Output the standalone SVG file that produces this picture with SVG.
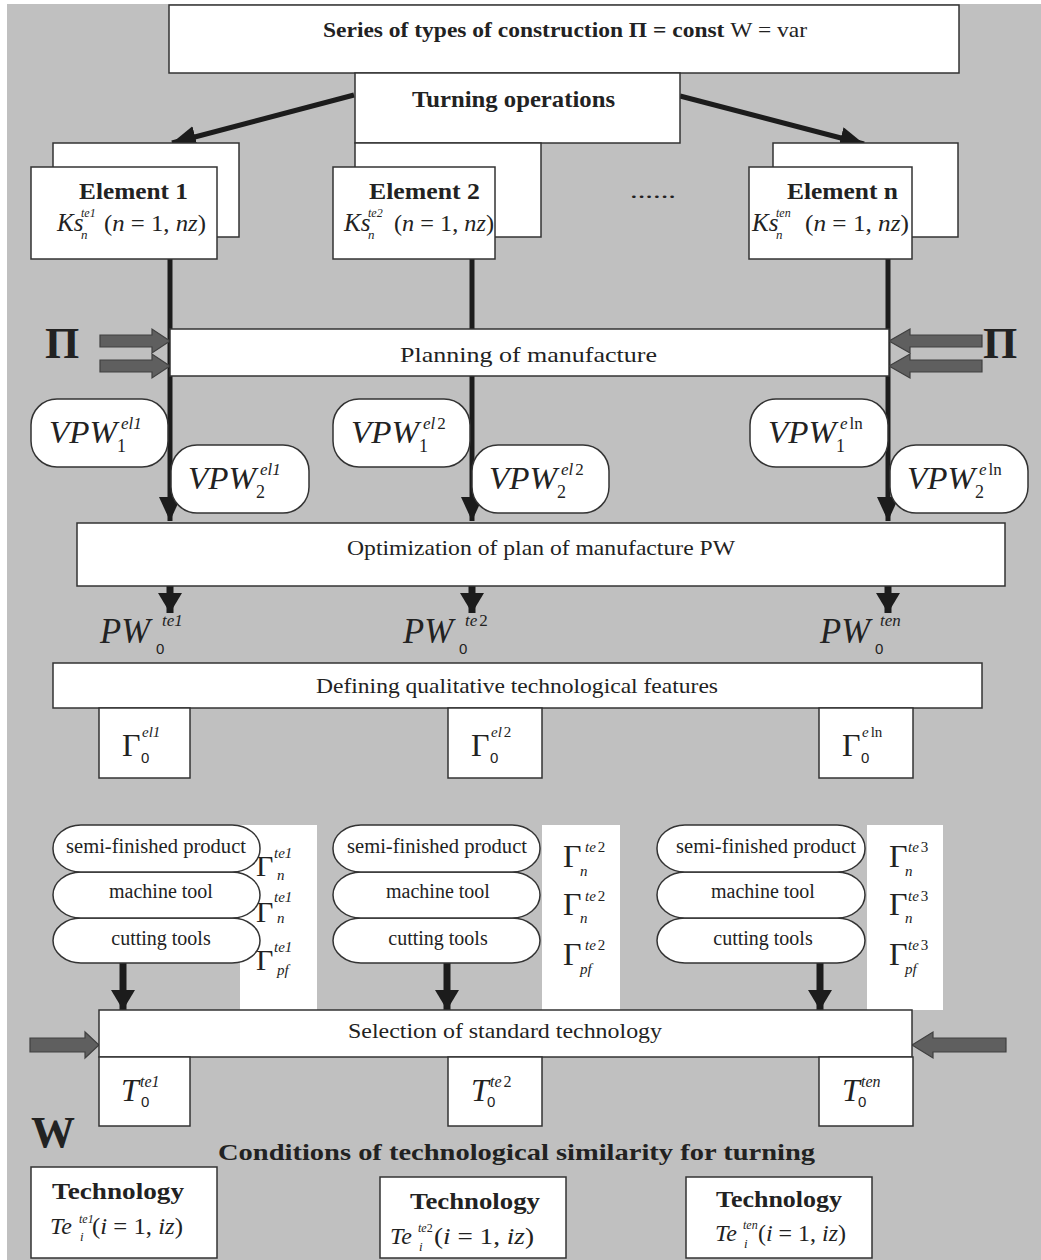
<svg xmlns="http://www.w3.org/2000/svg" width="1041" height="1260" viewBox="0 0 1041 1260">
<defs>
<style>
.bg{fill:#c0c0c0}
.box{fill:#fff;stroke:#333;stroke-width:1.5}
.panel{fill:#fff}
.t{font-family:"Liberation Serif","Times New Roman",serif;fill:#222}
.b{font-weight:bold}
.i{font-style:italic}
.s{font-family:"Liberation Sans",Arial,sans-serif;fill:#222}
.ln{stroke:#1c1c1c;stroke-width:5;fill:none}
.lnt{stroke:#1c1c1c;stroke-width:7;fill:none}
.garrow{fill:#5f5f5f;stroke:#404040;stroke-width:1.2}
</style>
<marker id="ah" markerUnits="userSpaceOnUse" viewBox="0 0 24 22" refX="24" refY="11" markerWidth="24" markerHeight="22" orient="auto">
<path d="M0,0 L24,11 L0,22 z" fill="#1c1c1c"/>
</marker>
<marker id="ahw" markerUnits="userSpaceOnUse" viewBox="0 0 20 24" refX="20" refY="12" markerWidth="20" markerHeight="24" orient="auto">
<path d="M0,0 L20,12 L0,24 z" fill="#1c1c1c"/>
</marker>
</defs>
<rect x="0" y="0" width="1041" height="1260" fill="#fff"/>
<rect class="bg" x="7" y="4" width="1034" height="1256"/>

<g id="connectors">
<line class="ln" x1="354" y1="95" x2="172" y2="143" marker-end="url(#ah)"/>
<line class="ln" x1="680" y1="96" x2="864" y2="144" marker-end="url(#ah)"/>
<line class="ln" x1="170" y1="259" x2="170" y2="521" marker-end="url(#ah)"/>
<line class="ln" x1="472" y1="259" x2="472" y2="521" marker-end="url(#ah)"/>
<line class="ln" x1="888" y1="259" x2="888" y2="521" marker-end="url(#ah)"/>
<line class="lnt" x1="170" y1="586" x2="170" y2="613" marker-end="url(#ahw)"/>
<line class="lnt" x1="472" y1="586" x2="472" y2="613" marker-end="url(#ahw)"/>
<line class="lnt" x1="888" y1="586" x2="888" y2="613" marker-end="url(#ahw)"/>
<line class="lnt" x1="123" y1="963" x2="123" y2="1010" marker-end="url(#ahw)"/>
<line class="lnt" x1="447" y1="963" x2="447" y2="1010" marker-end="url(#ahw)"/>
<line class="lnt" x1="820" y1="963" x2="820" y2="1010" marker-end="url(#ahw)"/>
<path class="garrow" d="M100,335 L152,335 L152,329 L170,341 L152,353 L152,347 L100,347 z"/>
<path class="garrow" d="M100,360 L152,360 L152,354 L170,366 L152,378 L152,372 L100,372 z"/>
<path class="garrow" d="M982,335 L910,335 L910,329 L889,341 L910,353 L910,347 L982,347 z"/>
<path class="garrow" d="M982,360 L910,360 L910,354 L889,366 L910,378 L910,372 L982,372 z"/>
<path class="garrow" d="M30,1038 L85,1038 L85,1032 L99,1045 L85,1058 L85,1052 L30,1052 z"/>
<path class="garrow" d="M1006,1038 L933,1038 L933,1032 L912,1045 L933,1058 L933,1052 L1006,1052 z"/>
</g>

<g id="series">
<rect class="box" x="169" y="5" width="790" height="68"/>
<text class="t" x="323" y="37" font-size="21" textLength="484" lengthAdjust="spacingAndGlyphs"><tspan class="b">Series of types of construction Π = const </tspan><tspan>W = var</tspan></text>
</g>
<g id="turning">
<rect class="box" x="355" y="73" width="325" height="70"/>
<text class="t b" x="412" y="107" font-size="24" textLength="203" lengthAdjust="spacingAndGlyphs">Turning operations</text>
</g>

<g id="element1">
<rect class="box" x="53" y="143" width="186" height="94"/>
<rect class="box" x="31" y="167" width="186" height="92"/>
<text class="t b" x="79" y="199" font-size="24" textLength="109" lengthAdjust="spacingAndGlyphs">Element 1</text>
<text class="t i" x="57" y="231" font-size="25">Ks</text>
<text class="t i" x="81" y="217" font-size="12">te1</text>
<text class="t i" x="81" y="239" font-size="13">n</text>
<text class="t" x="104" y="231" font-size="24" textLength="102" lengthAdjust="spacingAndGlyphs">(<tspan class="i">n</tspan> = 1, <tspan class="i">nz</tspan>)</text>
</g>
<g id="element2">
<rect class="box" x="355" y="143" width="186" height="94"/>
<rect class="box" x="333" y="167" width="162" height="92"/>
<text class="t b" x="369" y="199" font-size="24" textLength="111" lengthAdjust="spacingAndGlyphs">Element 2</text>
<text class="t i" x="344" y="231" font-size="25">Ks</text>
<text class="t i" x="368" y="217" font-size="12">te2</text>
<text class="t i" x="368" y="239" font-size="13">n</text>
<text class="t" x="394" y="231" font-size="24" textLength="100" lengthAdjust="spacingAndGlyphs">(<tspan class="i">n</tspan> = 1, <tspan class="i">nz</tspan>)</text>
</g>
<g id="dots">
<text class="t" x="630" y="198" font-size="22" textLength="46" lengthAdjust="spacingAndGlyphs">......</text>
</g>
<g id="elementn">
<rect class="box" x="773" y="143" width="185" height="94"/>
<rect class="box" x="749" y="167" width="163" height="92"/>
<text class="t b" x="787" y="199" font-size="24" textLength="111" lengthAdjust="spacingAndGlyphs">Element n</text>
<text class="t i" x="752" y="231" font-size="25">Ks</text>
<text class="t i" x="776" y="217" font-size="12">ten</text>
<text class="t i" x="776" y="239" font-size="13">n</text>
<text class="t" x="805" y="231" font-size="24" textLength="104" lengthAdjust="spacingAndGlyphs">(<tspan class="i">n</tspan> = 1, <tspan class="i">nz</tspan>)</text>
</g>

<g id="pi-left"><text class="t b" x="45" y="358" font-size="44">Π</text></g>
<g id="pi-right"><text class="t b" x="983" y="358" font-size="44">Π</text></g>

<g id="planning">
<rect class="box" x="170" y="329" width="719" height="47"/>
<text class="t" x="400" y="362" font-size="22" textLength="257" lengthAdjust="spacingAndGlyphs">Planning of manufacture</text>
</g>

<g id="vpw1-el1">
<rect class="box" x="31" y="399" width="137" height="68" rx="26" ry="26"/>
<text class="t i" x="49" y="443" font-size="31" textLength="68" lengthAdjust="spacingAndGlyphs">VPW</text>
<text class="t i" x="121" y="429" font-size="17">el1</text>
<text class="t" x="117" y="452" font-size="18">1</text>
</g>
<g id="vpw2-el1">
<rect class="box" x="171" y="445" width="138" height="68" rx="26" ry="26"/>
<text class="t i" x="188" y="489" font-size="31" textLength="68" lengthAdjust="spacingAndGlyphs">VPW</text>
<text class="t i" x="260" y="475" font-size="17">el1</text>
<text class="t" x="256" y="498" font-size="18">2</text>
</g>
<g id="vpw1-el2">
<rect class="box" x="333" y="399" width="137" height="68" rx="26" ry="26"/>
<text class="t i" x="351" y="443" font-size="31" textLength="68" lengthAdjust="spacingAndGlyphs">VPW</text>
<text class="t i" x="423" y="429" font-size="17">el<tspan font-style="normal" dx="2">2</tspan></text>
<text class="t" x="419" y="452" font-size="18">1</text>
</g>
<g id="vpw2-el2">
<rect class="box" x="472" y="445" width="137" height="68" rx="26" ry="26"/>
<text class="t i" x="489" y="489" font-size="31" textLength="68" lengthAdjust="spacingAndGlyphs">VPW</text>
<text class="t i" x="561" y="475" font-size="17">el<tspan font-style="normal" dx="2">2</tspan></text>
<text class="t" x="557" y="498" font-size="18">2</text>
</g>
<g id="vpw1-eln">
<rect class="box" x="750" y="399" width="138" height="68" rx="26" ry="26"/>
<text class="t i" x="768" y="443" font-size="31" textLength="68" lengthAdjust="spacingAndGlyphs">VPW</text>
<text class="t i" x="840" y="429" font-size="17">e<tspan font-style="normal" dx="2">ln</tspan></text>
<text class="t" x="836" y="452" font-size="18">1</text>
</g>
<g id="vpw2-eln">
<rect class="box" x="890" y="445" width="138" height="68" rx="26" ry="26"/>
<text class="t i" x="907" y="489" font-size="31" textLength="68" lengthAdjust="spacingAndGlyphs">VPW</text>
<text class="t i" x="979" y="475" font-size="17">e<tspan font-style="normal" dx="2">ln</tspan></text>
<text class="t" x="975" y="498" font-size="18">2</text>
</g>

<g id="optimization">
<rect class="box" x="77" y="523" width="928" height="63"/>
<text class="t" x="347" y="555" font-size="22" textLength="388" lengthAdjust="spacingAndGlyphs">Optimization of plan of manufacture PW</text>
</g>

<g id="pw1">
<text class="t i" x="100" y="643" font-size="36" textLength="50" lengthAdjust="spacingAndGlyphs">PW</text>
<text class="t i" x="162" y="626" font-size="17">te1</text>
<text class="s" x="156" y="654" font-size="15">0</text>
</g>
<g id="pw2">
<text class="t i" x="403" y="643" font-size="36" textLength="50" lengthAdjust="spacingAndGlyphs">PW</text>
<text class="t i" x="465" y="626" font-size="17">te<tspan font-style="normal" dx="2">2</tspan></text>
<text class="s" x="459" y="654" font-size="15">0</text>
</g>
<g id="pwn">
<text class="t i" x="820" y="643" font-size="36" textLength="50" lengthAdjust="spacingAndGlyphs">PW</text>
<text class="t i" x="880" y="626" font-size="17">ten</text>
<text class="s" x="875" y="654" font-size="15">0</text>
</g>

<g id="defining">
<rect class="box" x="53" y="663" width="929" height="45"/>
<text class="t" x="316" y="693" font-size="22" textLength="402" lengthAdjust="spacingAndGlyphs">Defining qualitative technological features</text>
</g>
<g id="g0-el1">
<rect class="box" x="99" y="708" width="91" height="70"/>
<text class="t" x="122" y="756" font-size="32">Γ</text>
<text class="t i" x="142" y="737" font-size="15">el1</text>
<text class="s" x="141" y="763" font-size="15">0</text>
</g>
<g id="g0-el2">
<rect class="box" x="448" y="708" width="94" height="70"/>
<text class="t" x="471" y="756" font-size="32">Γ</text>
<text class="t i" x="491" y="737" font-size="15">el<tspan font-style="normal" dx="2">2</tspan></text>
<text class="s" x="490" y="763" font-size="15">0</text>
</g>
<g id="g0-eln">
<rect class="box" x="819" y="708" width="94" height="70"/>
<text class="t" x="842" y="756" font-size="32">Γ</text>
<text class="t i" x="862" y="737" font-size="15">e<tspan font-style="normal" dx="2">ln</tspan></text>
<text class="s" x="861" y="763" font-size="15">0</text>
</g>

<g id="group1">
<rect class="panel" x="240" y="825" width="77" height="185"/>
<text class="t" x="256" y="876" font-size="30">Γ</text>
<text class="t i" x="274" y="858" font-size="15">te1</text>
<text class="t i" x="277" y="880" font-size="15">n</text>
<text class="t" x="256" y="922" font-size="30">Γ</text>
<text class="t i" x="274" y="902" font-size="15">te1</text>
<text class="t i" x="277" y="923" font-size="15">n</text>
<text class="t" x="256" y="970" font-size="30">Γ</text>
<text class="t i" x="274" y="952" font-size="15">te1</text>
<text class="t i" x="277" y="975" font-size="15">pf</text>
<rect class="box" x="53" y="918" width="207" height="45" rx="28" ry="23"/>
<rect class="box" x="53" y="872" width="207" height="46" rx="28" ry="23"/>
<rect class="box" x="53" y="825" width="207" height="47" rx="28" ry="23"/>
<text class="t" x="156" y="853" font-size="20" text-anchor="middle" textLength="180" lengthAdjust="spacingAndGlyphs">semi-finished product</text>
<text class="t" x="161" y="898" font-size="20" text-anchor="middle">machine tool</text>
<text class="t" x="161" y="945" font-size="20" text-anchor="middle">cutting tools</text>
</g>
<g id="group2">
<rect class="panel" x="542" y="825" width="78" height="185"/>
<text class="t" x="563" y="867" font-size="32">Γ</text>
<text class="t i" x="585" y="852" font-size="15">te<tspan font-style="normal" dx="2">2</tspan></text>
<text class="t i" x="580" y="876" font-size="15">n</text>
<text class="t" x="563" y="915" font-size="32">Γ</text>
<text class="t i" x="585" y="901" font-size="15">te<tspan font-style="normal" dx="2">2</tspan></text>
<text class="t i" x="580" y="923" font-size="15">n</text>
<text class="t" x="563" y="965" font-size="32">Γ</text>
<text class="t i" x="585" y="950" font-size="15">te<tspan font-style="normal" dx="2">2</tspan></text>
<text class="t i" x="580" y="974" font-size="15">pf</text>
<rect class="box" x="333" y="918" width="207" height="45" rx="28" ry="23"/>
<rect class="box" x="333" y="872" width="207" height="46" rx="28" ry="23"/>
<rect class="box" x="333" y="825" width="207" height="47" rx="28" ry="23"/>
<text class="t" x="437" y="853" font-size="20" text-anchor="middle" textLength="180" lengthAdjust="spacingAndGlyphs">semi-finished product</text>
<text class="t" x="438" y="898" font-size="20" text-anchor="middle">machine tool</text>
<text class="t" x="438" y="945" font-size="20" text-anchor="middle">cutting tools</text>
</g>
<g id="group3">
<rect class="panel" x="867" y="825" width="76" height="185"/>
<text class="t" x="889" y="867" font-size="32">Γ</text>
<text class="t i" x="908" y="852" font-size="15">te<tspan font-style="normal" dx="2">3</tspan></text>
<text class="t i" x="905" y="876" font-size="15">n</text>
<text class="t" x="889" y="915" font-size="32">Γ</text>
<text class="t i" x="908" y="901" font-size="15">te<tspan font-style="normal" dx="2">3</tspan></text>
<text class="t i" x="905" y="923" font-size="15">n</text>
<text class="t" x="889" y="965" font-size="32">Γ</text>
<text class="t i" x="908" y="950" font-size="15">te<tspan font-style="normal" dx="2">3</tspan></text>
<text class="t i" x="905" y="974" font-size="15">pf</text>
<rect class="box" x="657" y="918" width="208" height="45" rx="28" ry="23"/>
<rect class="box" x="657" y="872" width="208" height="46" rx="28" ry="23"/>
<rect class="box" x="657" y="825" width="208" height="47" rx="28" ry="23"/>
<text class="t" x="766" y="853" font-size="20" text-anchor="middle" textLength="180" lengthAdjust="spacingAndGlyphs">semi-finished product</text>
<text class="t" x="763" y="898" font-size="20" text-anchor="middle">machine tool</text>
<text class="t" x="763" y="945" font-size="20" text-anchor="middle">cutting tools</text>
</g>

<g id="selection">
<rect class="box" x="99" y="1010" width="813" height="47"/>
<text class="t" x="348" y="1038" font-size="22" textLength="314" lengthAdjust="spacingAndGlyphs">Selection of standard technology</text>
</g>
<g id="t0-te1">
<rect class="box" x="99" y="1057" width="91" height="69"/>
<text class="t i" x="121" y="1101" font-size="32">T</text>
<text class="t i" x="140" y="1087" font-size="16">te1</text>
<text class="s" x="141" y="1107" font-size="15">0</text>
</g>
<g id="t0-te2">
<rect class="box" x="448" y="1057" width="94" height="69"/>
<text class="t i" x="471" y="1101" font-size="32">T</text>
<text class="t i" x="490" y="1087" font-size="16">te<tspan font-style="normal" dx="2">2</tspan></text>
<text class="s" x="487" y="1107" font-size="15">0</text>
</g>
<g id="t0-ten">
<rect class="box" x="819" y="1057" width="94" height="69"/>
<text class="t i" x="842" y="1101" font-size="32">T</text>
<text class="t i" x="861" y="1087" font-size="16">ten</text>
<text class="s" x="858" y="1107" font-size="15">0</text>
</g>

<g id="w-label"><text class="t b" x="31" y="1147" font-size="44">W</text></g>
<g id="conditions">
<text class="t b" x="218" y="1160" font-size="24" textLength="597" lengthAdjust="spacingAndGlyphs">Conditions of technological similarity for turning</text>
</g>

<g id="tech1">
<rect class="box" x="31" y="1167" width="186" height="91"/>
<text class="t b" x="52" y="1199" font-size="24" textLength="132" lengthAdjust="spacingAndGlyphs">Technology</text>
<text class="t i" x="50" y="1234" font-size="24">Te</text>
<text class="t i" x="79" y="1223" font-size="12">te1</text>
<text class="t i" x="80" y="1241" font-size="13">i</text>
<text class="t" x="92" y="1234" font-size="23" textLength="91" lengthAdjust="spacingAndGlyphs">(<tspan class="i">i</tspan> = 1, <tspan class="i">iz</tspan>)</text>
</g>
<g id="tech2">
<rect class="box" x="380" y="1177" width="186" height="81"/>
<text class="t b" x="410" y="1209" font-size="24" textLength="130" lengthAdjust="spacingAndGlyphs">Technology</text>
<text class="t i" x="390" y="1244" font-size="24">Te</text>
<text class="t i" x="418" y="1232" font-size="12">te<tspan font-style="normal">2</tspan></text>
<text class="t i" x="419" y="1251" font-size="13">i</text>
<text class="t" x="434" y="1244" font-size="23" textLength="100" lengthAdjust="spacingAndGlyphs">(<tspan class="i">i</tspan> = 1, <tspan class="i">iz</tspan>)</text>
</g>
<g id="tech3">
<rect class="box" x="686" y="1177" width="186" height="81"/>
<text class="t b" x="716" y="1207" font-size="24" textLength="126" lengthAdjust="spacingAndGlyphs">Technology</text>
<text class="t i" x="715" y="1241" font-size="24">Te</text>
<text class="t i" x="743" y="1229" font-size="12">ten</text>
<text class="t i" x="744" y="1248" font-size="13">i</text>
<text class="t" x="758" y="1241" font-size="23" textLength="88" lengthAdjust="spacingAndGlyphs">(<tspan class="i">i</tspan> = 1, <tspan class="i">iz</tspan>)</text>
</g>
</svg>
